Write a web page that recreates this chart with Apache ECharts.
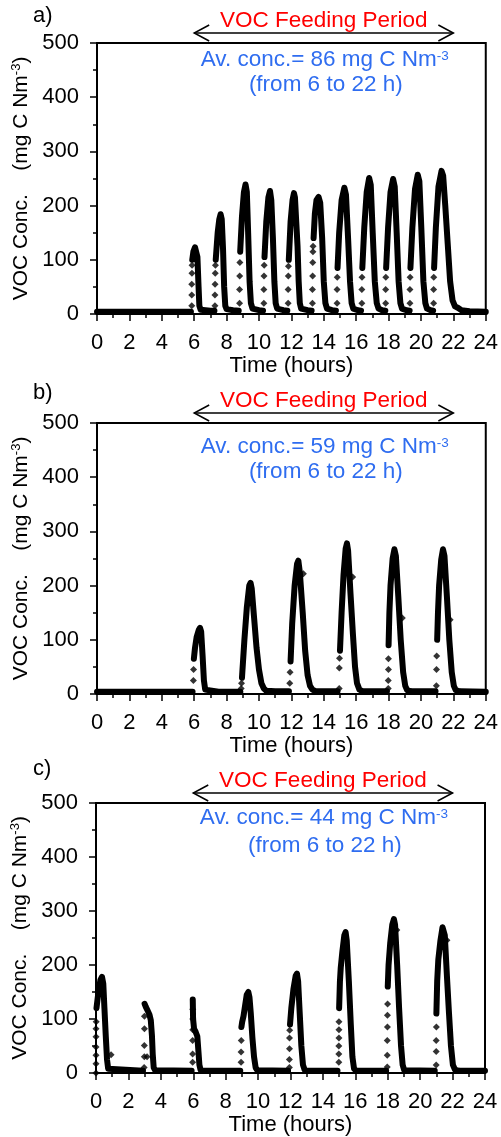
<!DOCTYPE html>
<html>
<head>
<meta charset="utf-8">
<script src="https://cdn.jsdelivr.net/npm/echarts@6/dist/echarts.min.js"></script>
<style>
html, body { margin: 0; padding: 0; background: #fff; }
#main { width: 501px; height: 1137px; }
</style>
</head>
<body>
<div id="main"></div>
<script>
// hours on x, VOC concentration (mg C Nm-3) on y
var panelLetters = ['a)', 'b)', 'c)'];
var avgConc = [86, 59, 44];
var feedStart = 6, feedEnd = 22;
var xTickHours = [0, 2, 4, 6, 8, 10, 12, 14, 16, 18, 20, 22, 24];

// dense part of each record (null = gap where the signal jumps)
var curveA = [
  [0, 4], [2, 4], [4, 4], [5.8, 4], null,
  [5.88, 100], [5.95, 115], [6.05, 123], [6.12, 124], [6.2, 105], [6.27, 50], [6.32, 15], [6.4, 8], [6.7, 7], [7.0, 6], [7.25, 6], null,
  [7.33, 100], [7.45, 150], [7.55, 175], [7.63, 184], [7.7, 175], [7.78, 120], [7.85, 50], [7.92, 15], [8.0, 9], [8.4, 7], [8.75, 6], null,
  [8.84, 115], [8.95, 180], [9.07, 225], [9.17, 239], [9.25, 225], [9.33, 150], [9.42, 60], [9.5, 20], [9.6, 10], [10.0, 7], [10.25, 6], null,
  [10.34, 105], [10.45, 170], [10.58, 215], [10.68, 227], [10.76, 210], [10.86, 140], [10.95, 60], [11.03, 20], [11.12, 10], [11.5, 7], [11.75, 6], null,
  [11.84, 100], [11.95, 170], [12.07, 210], [12.16, 223], [12.22, 215], [12.3, 170], [12.38, 125], [12.45, 60], [12.52, 20], [12.6, 10], [13.0, 7], [13.25, 6], null,
  [13.37, 140], [13.45, 185], [13.55, 210], [13.68, 216], [13.78, 205], [13.9, 140], [14.0, 60], [14.1, 20], [14.2, 10], [14.5, 7], [14.75, 6], null,
  [14.85, 85], [14.95, 150], [15.1, 210], [15.27, 233], [15.37, 220], [15.5, 140], [15.62, 60], [15.72, 20], [15.82, 10], [16.1, 7], [16.3, 6], null,
  [16.38, 85], [16.5, 160], [16.65, 225], [16.8, 251], [16.9, 238], [17.02, 150], [17.15, 60], [17.27, 20], [17.38, 10], [17.6, 7], [17.8, 6], null,
  [17.85, 85], [17.97, 160], [18.12, 225], [18.28, 249], [18.38, 235], [18.5, 150], [18.62, 60], [18.73, 20], [18.83, 10], [19.1, 7], [19.3, 6], null,
  [19.35, 85], [19.47, 160], [19.63, 230], [19.8, 257], [19.9, 245], [20.02, 160], [20.15, 60], [20.27, 20], [20.37, 10], [20.6, 7], [20.75, 6], null,
  [20.81, 85], [20.92, 160], [21.08, 235], [21.27, 264], [21.37, 255], [21.5, 200], [21.65, 130], [21.8, 60], [21.95, 25], [22.1, 14], [22.3, 11], [22.5, 7], [23, 5], [24, 4]
];
// sparse points on the fast rising edges
var dotsA = [
  [5.85, 15], [5.85, 35], [5.85, 55], [5.86, 75], [5.87, 90],
  [7.28, 15], [7.28, 35], [7.29, 55], [7.3, 75], [7.31, 90],
  [8.8, 20], [8.8, 45], [8.81, 70], [8.82, 95],
  [10.3, 20], [10.3, 45], [10.31, 70], [10.32, 90],
  [11.8, 20], [11.8, 45], [11.81, 70], [11.82, 88],
  [13.3, 20], [13.3, 45], [13.31, 70], [13.32, 95], [13.33, 115], [13.34, 125],
  [14.82, 20], [14.82, 45], [14.83, 68],
  [16.35, 20], [16.35, 45], [16.36, 68],
  [17.82, 20], [17.82, 45], [17.83, 68],
  [19.32, 20], [19.32, 45], [19.33, 68],
  [20.78, 20], [20.78, 45], [20.79, 68]
];

var curveB = [
  [0, 4], [3, 4], [5.9, 4], null,
  [5.98, 65], [6.05, 85], [6.15, 105], [6.28, 118], [6.36, 122], [6.43, 115], [6.52, 70], [6.6, 25], [6.68, 8], [6.8, 5], [7.5, 4], [8.85, 4], null,
  [8.95, 30], [9.1, 100], [9.25, 160], [9.4, 200], [9.48, 205], [9.55, 195], [9.7, 140], [9.85, 85], [10.0, 45], [10.15, 20], [10.3, 10], [10.45, 6], [11, 5], [11.85, 5], null,
  [11.95, 60], [12.05, 130], [12.2, 200], [12.35, 240], [12.43, 246], [12.52, 225], [12.7, 150], [12.85, 80], [13.0, 35], [13.15, 15], [13.3, 8], [13.5, 5], [14.85, 5], null,
  [15.0, 80], [15.1, 150], [15.22, 220], [15.35, 268], [15.43, 278], [15.5, 265], [15.65, 185], [15.8, 110], [15.93, 50], [16.05, 20], [16.2, 8], [16.4, 5], [17.9, 5], null,
  [18.0, 90], [18.05, 150], [18.12, 200], [18.25, 250], [18.36, 267], [18.45, 255], [18.6, 180], [18.75, 100], [18.9, 40], [19.03, 15], [19.15, 7], [19.4, 5], [20.9, 5], null,
  [21.0, 100], [21.05, 150], [21.12, 200], [21.25, 248], [21.36, 267], [21.45, 255], [21.6, 180], [21.75, 100], [21.9, 40], [22.03, 15], [22.15, 7], [22.4, 5], [24, 4]
];
var dotsB = [
  [5.95, 25], [5.96, 45],
  [8.9, 10], [8.92, 20],
  [11.9, 20], [11.92, 40],
  [14.95, 10], [14.96, 48], [14.97, 66],
  [17.98, 10], [17.98, 25], [17.99, 45], [17.99, 65],
  [20.95, 15], [20.96, 45], [20.97, 70],
  [12.74, 222], [15.78, 216], [18.85, 140], [21.8, 137]
];

var curveC = [
  [0.03, 120], [0.15, 150], [0.27, 172], [0.37, 178], [0.45, 165], [0.52, 120], [0.6, 70], [0.68, 25], [0.75, 8], [0.85, 5], [2.9, 4], null,
  [3.0, 128], [3.08, 122], [3.18, 116], [3.3, 108], [3.38, 98], [3.45, 70], [3.5, 35], [3.56, 10], [3.65, 5], [5.9, 4], null,
  [5.97, 136], [5.99, 100], [6.05, 82], [6.15, 76], [6.25, 68], [6.32, 40], [6.38, 15], [6.45, 6], [6.6, 4], [8.9, 4], null,
  [8.97, 85], [9.02, 95], [9.1, 105], [9.2, 125], [9.3, 145], [9.4, 150], [9.47, 140], [9.55, 110], [9.65, 65], [9.75, 30], [9.85, 10], [9.95, 5], [11.85, 4], null,
  [11.97, 90], [12.05, 120], [12.18, 155], [12.32, 180], [12.4, 184], [12.47, 170], [12.57, 110], [12.67, 50], [12.77, 15], [12.87, 6], [13.0, 4], [14.9, 4], null,
  [15.0, 120], [15.05, 170], [15.1, 195], [15.2, 225], [15.32, 255], [15.4, 261], [15.47, 245], [15.6, 170], [15.72, 90], [15.82, 30], [15.92, 8], [16.05, 4], [17.9, 4], null,
  [18.0, 160], [18.05, 200], [18.15, 240], [18.28, 275], [18.38, 285], [18.45, 275], [18.58, 200], [18.7, 120], [18.82, 50], [18.92, 15], [19.02, 5], [20.9, 4], null,
  [21.0, 110], [21.05, 170], [21.12, 210], [21.25, 245], [21.38, 270], [21.45, 272], [21.52, 255], [21.65, 180], [21.78, 110], [21.9, 50], [22.02, 15], [22.15, 6], [22.4, 4], [24, 4]
];
var dotsC = [
  [0, 0], [0, 17], [0, 33], [0, 48], [0, 67], [0, 82], [0.01, 95], [0.93, 34],
  [2.97, 10], [2.98, 30], [2.98, 51], [2.99, 82], [2.99, 105], [3.15, 30],
  [5.96, 20], [5.96, 35], [5.96, 60], [5.97, 80], [5.97, 100], [5.97, 118],
  [8.95, 20], [8.95, 39], [8.96, 60],
  [11.93, 10], [11.93, 25], [11.94, 45], [11.94, 65], [11.95, 79],
  [14.98, 20], [14.98, 35], [14.98, 50], [14.99, 65], [14.99, 80], [14.99, 95],
  [17.97, 11], [17.97, 33], [17.97, 60], [17.98, 85], [17.98, 107], [17.99, 128],
  [20.99, 15], [20.99, 40], [20.99, 60], [21.0, 85],
  [18.56, 265], [21.65, 246]
];

var curves = [curveA, curveB, curveC];
var dots = [dotsA, dotsB, dotsC];

var FONT = "'Liberation Sans', Arial, sans-serif";
var BLUE = '#2f6df0';
var gridBox = [
  { left: 97, top: 43, width: 390, height: 271 },
  { left: 97, top: 423, width: 390, height: 271 },
  { left: 96, top: 803, width: 389, height: 270 }
];
var letterY = [16, 393, 769];
var noteY = [[16, 41], [23, 48], [14, 42]];

var chartDom = document.getElementById('main');
var myChart = echarts.init(chartDom);

var grids = [], xAxes = [], yAxes = [], series = [];
gridBox.forEach(function (g, i) {
  grids.push({
    left: g.left, top: g.top, width: g.width, height: g.height,
    show: true, borderColor: '#000', borderWidth: 2, backgroundColor: 'transparent'
  });
  xAxes.push({
    gridIndex: i, type: 'value', min: 0, max: 24, interval: 2,
    name: 'Time (hours)', nameLocation: 'middle', nameGap: 41,
    nameTextStyle: { fontSize: 22, color: '#000', fontFamily: FONT },
    axisLine: { lineStyle: { color: '#000', width: 2 } },
    axisTick: { length: 7, lineStyle: { color: '#000', width: 1.5 } },
    minorTick: { show: true, splitNumber: 2, length: 4, lineStyle: { color: '#000', width: 1.5 } },
    splitLine: { show: false },
    axisLabel: {
      fontSize: 22, color: '#000', fontFamily: FONT, margin: 18,
      showMinLabel: true, showMaxLabel: true,
      formatter: function (v) { return xTickHours.indexOf(v) >= 0 ? String(v) : ''; }
    }
  });
  yAxes.push({
    gridIndex: i, type: 'value', min: 0, max: 500, interval: 100,
    name: '{n|VOC Conc.    (mg C Nm}{s|-3}{n|)}',
    nameLocation: 'middle', nameGap: 58, nameRotate: 90,
    nameTextStyle: {
      color: '#000', fontFamily: FONT,
      rich: {
        n: { fontSize: 21, lineHeight: 22, fontFamily: FONT, color: '#000' },
        s: { fontSize: 13, lineHeight: 12, verticalAlign: 'top', fontFamily: FONT, color: '#000' }
      }
    },
    axisLine: { lineStyle: { color: '#000', width: 2 } },
    axisTick: { length: 7, lineStyle: { color: '#000', width: 1.5 } },
    minorTick: { show: true, splitNumber: 2, length: 4, lineStyle: { color: '#000', width: 1.5 } },
    splitLine: { show: false },
    axisLabel: { fontSize: 22, color: '#000', fontFamily: FONT, margin: 18 }
  });
  series.push({
    type: 'line', xAxisIndex: i, yAxisIndex: i,
    data: curves[i].map(function (p) { return p ? p : ['-', '-']; }),
    showSymbol: false, connectNulls: false,
    lineStyle: { color: '#000', width: 6, join: 'round', cap: 'round' },
    silent: true
  });
  series.push({
    type: 'scatter', xAxisIndex: i, yAxisIndex: i,
    data: dots[i], symbol: 'diamond', symbolSize: 7,
    itemStyle: { color: '#000' }, silent: true
  });
});

myChart.setOption({
  animation: false,
  backgroundColor: '#fff',
  grid: grids, xAxis: xAxes, yAxis: yAxes, series: series
});

// annotations: feeding-period arrow, titles, average concentration notes
var graphics = [];
gridBox.forEach(function (g, i) {
  var p0 = myChart.convertToPixel({ gridIndex: i }, [feedStart, 0]);
  var p1 = myChart.convertToPixel({ gridIndex: i }, [feedEnd, 0]);
  var mid = (p0[0] + p1[0]) / 2;
  var ay = g.top - 10;
  var ls = { stroke: '#000', lineWidth: 1.5, fill: null };
  graphics.push({ type: 'polyline', shape: { points: [[p0[0], ay], [p1[0], ay]] }, style: ls });
  graphics.push({ type: 'polyline', shape: { points: [[p0[0] + 15, ay - 8], [p0[0], ay], [p0[0] + 15, ay + 8]] }, style: ls });
  graphics.push({ type: 'polyline', shape: { points: [[p1[0] - 15, ay - 8], [p1[0], ay], [p1[0] - 15, ay + 8]] }, style: ls });
  graphics.push({
    type: 'text', x: mid, y: g.top - 22,
    style: { text: 'VOC Feeding Period', fill: '#ff0000', font: '22.5px ' + FONT, textAlign: 'center', textVerticalAlign: 'middle' }
  });
  graphics.push({
    type: 'text', x: mid + 1, y: g.top + noteY[i][0] + 1,
    style: {
      text: '{t|Av. conc.= ' + avgConc[i] + ' mg C Nm}{s|-3}',
      textAlign: 'center', textVerticalAlign: 'middle',
      rich: {
        t: { fontSize: 22.5, lineHeight: 22, fontFamily: FONT, fill: BLUE },
        s: { fontSize: 13.5, lineHeight: 12, verticalAlign: 'top', fontFamily: FONT, fill: BLUE }
      }
    }
  });
  graphics.push({
    type: 'text', x: mid + 2, y: g.top + noteY[i][1] + 1,
    style: { text: '(from ' + feedStart + ' to ' + feedEnd + ' h)', fill: BLUE, font: '22.5px ' + FONT, textAlign: 'center', textVerticalAlign: 'middle' }
  });
  graphics.push({
    type: 'text', x: 33, y: letterY[i],
    style: { text: panelLetters[i], fill: '#000', font: '22px ' + FONT, textAlign: 'left', textVerticalAlign: 'middle' }
  });
});
myChart.setOption({ graphic: graphics });
</script>
</body>
</html>
